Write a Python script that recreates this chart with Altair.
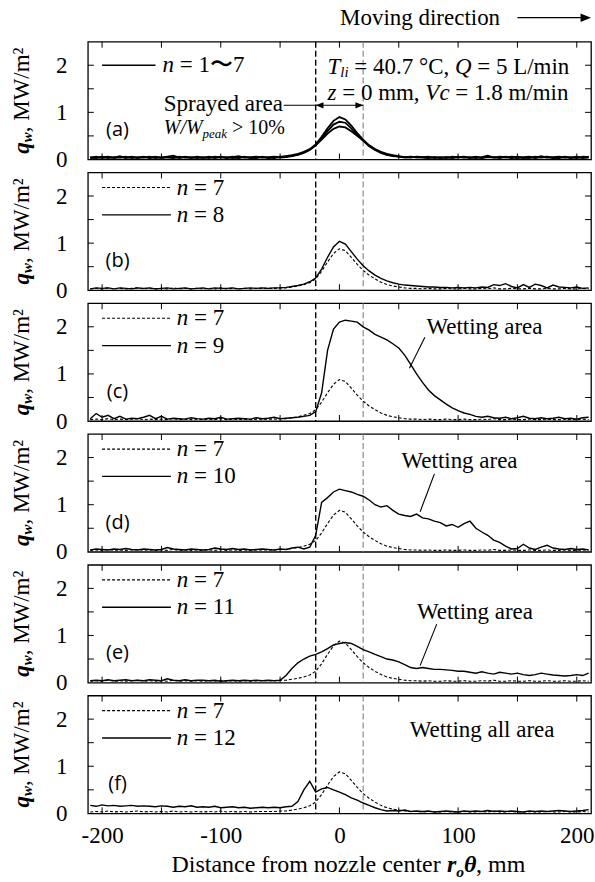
import altair as alt
import pandas as pd

# ---------------- data ----------------
X_MM = list(range(-210, 215, 5))

A_N1 = [0.04,0.06,0.03,0.05,0.04,0.07,0.03,0.05,0.04,0.06,
        0.03,0.05,0.04,0.06,0.08,0.04,0.05,0.03,0.06,0.04,
        0.05,0.04,0.06,0.03,0.05,0.07,0.04,0.05,0.06,0.04,
        0.05,0.06,0.05,0.07,0.09,0.12,0.16,0.22,0.32,0.48,
        0.66,0.82,0.90,0.85,0.72,0.56,0.42,0.30,0.21,0.15,
        0.10,0.08,0.06,0.05,0.04,0.06,0.05,0.04,0.05,0.03,
        0.05,0.04,0.06,0.04,0.05,0.03,0.05,0.08,0.04,0.05,
        0.04,0.06,0.05,0.03,0.05,0.04,0.07,0.04,0.05,0.06,
        0.04,0.05,0.03,0.06,0.05]
A_N2 = [0.03,0.04,0.06,0.03,0.05,0.04,0.06,0.03,0.05,0.04,
        0.06,0.03,0.05,0.04,0.03,0.06,0.04,0.05,0.03,0.05,
        0.03,0.06,0.04,0.05,0.03,0.04,0.06,0.03,0.04,0.05,
        0.04,0.03,0.06,0.06,0.08,0.10,0.14,0.20,0.30,0.42,
        0.55,0.65,0.70,0.68,0.60,0.50,0.40,0.30,0.22,0.16,
        0.12,0.09,0.07,0.05,0.06,0.04,0.05,0.06,0.03,0.05,
        0.03,0.06,0.04,0.05,0.04,0.06,0.03,0.05,0.04,0.06,
        0.05,0.03,0.06,0.04,0.03,0.06,0.04,0.05,0.03,0.04,
        0.06,0.03,0.05,0.04,0.06]
A_N3 = [0.05,0.03,0.05,0.06,0.03,0.05,0.04,0.06,0.03,0.05,
        0.04,0.06,0.03,0.05,0.05,0.03,0.06,0.04,0.05,0.03,
        0.06,0.03,0.05,0.04,0.06,0.03,0.05,0.04,0.03,0.06,
        0.03,0.05,0.04,0.05,0.07,0.10,0.15,0.21,0.30,0.45,
        0.60,0.74,0.80,0.78,0.66,0.52,0.40,0.28,0.20,0.14,
        0.10,0.07,0.06,0.04,0.05,0.05,0.04,0.03,0.05,0.04,
        0.05,0.03,0.05,0.06,0.03,0.05,0.04,0.06,0.05,0.03,
        0.06,0.04,0.03,0.05,0.06,0.03,0.05,0.06,0.04,0.03,
        0.05,0.04,0.06,0.03,0.04]
N7 = [0.03,0.04,0.03,0.05,0.03,0.04,0.03,0.04,0.05,0.03,
      0.04,0.03,0.04,0.03,0.05,0.03,0.04,0.03,0.04,0.03,
      0.04,0.03,0.05,0.03,0.04,0.03,0.04,0.03,0.04,0.04,
      0.04,0.04,0.05,0.05,0.07,0.09,0.12,0.16,0.24,0.40,
      0.60,0.78,0.88,0.84,0.70,0.55,0.42,0.32,0.24,0.17,
      0.12,0.09,0.07,0.05,0.04,0.04,0.03,0.04,0.03,0.03,
      0.04,0.03,0.03,0.04,0.03,0.03,0.04,0.03,0.05,0.03,
      0.03,0.04,0.03,0.03,0.04,0.03,0.03,0.04,0.03,0.03,
      0.04,0.03,0.03,0.04,0.03]
N8 = [0.03,0.05,0.04,0.05,0.03,0.05,0.04,0.03,0.05,0.04,
      0.05,0.03,0.04,0.05,0.03,0.04,0.05,0.03,0.04,0.05,
      0.03,0.05,0.04,0.04,0.05,0.03,0.04,0.05,0.04,0.05,
      0.04,0.05,0.05,0.06,0.08,0.10,0.13,0.18,0.26,0.45,
      0.70,0.92,1.04,0.98,0.82,0.66,0.52,0.41,0.32,0.25,
      0.20,0.16,0.13,0.11,0.10,0.09,0.08,0.07,0.07,0.06,
      0.06,0.05,0.06,0.05,0.06,0.05,0.07,0.06,0.12,0.10,
      0.14,0.08,0.05,0.12,0.06,0.13,0.10,0.05,0.11,0.07,
      0.06,0.05,0.07,0.04,0.05]
N9 = [0.05,0.16,0.08,0.12,0.05,0.10,0.04,0.06,0.05,0.08,
      0.12,0.05,0.10,0.04,0.06,0.05,0.04,0.07,0.05,0.04,
      0.06,0.05,0.08,0.04,0.05,0.06,0.05,0.04,0.07,0.05,
      0.06,0.08,0.05,0.06,0.07,0.08,0.10,0.12,0.20,0.60,
      1.50,1.95,2.10,2.14,2.12,2.10,2.00,1.93,1.84,1.78,
      1.72,1.64,1.55,1.40,1.20,1.00,0.82,0.66,0.54,0.45,
      0.36,0.28,0.22,0.17,0.14,0.10,0.08,0.10,0.07,0.06,
      0.08,0.05,0.07,0.10,0.06,0.05,0.07,0.05,0.06,0.08,
      0.05,0.06,0.04,0.07,0.08]
N10 = [0.04,0.06,0.05,0.04,0.06,0.05,0.07,0.05,0.04,0.06,
       0.05,0.04,0.05,0.09,0.06,0.05,0.04,0.06,0.05,0.04,
       0.05,0.08,0.06,0.05,0.07,0.05,0.06,0.04,0.05,0.06,
       0.05,0.04,0.06,0.05,0.08,0.10,0.06,0.10,0.35,1.05,
       1.15,1.27,1.33,1.30,1.27,1.22,1.18,1.10,1.00,0.95,
       0.98,0.88,0.80,0.77,0.75,0.80,0.72,0.70,0.65,0.62,
       0.55,0.58,0.52,0.60,0.65,0.50,0.42,0.35,0.25,0.20,
       0.12,0.06,0.07,0.16,0.08,0.05,0.10,0.14,0.08,0.06,
       0.05,0.07,0.05,0.06,0.04]
N11 = [0.04,0.05,0.04,0.06,0.04,0.05,0.06,0.04,0.05,0.04,
       0.06,0.05,0.04,0.08,0.05,0.04,0.06,0.04,0.05,0.05,
       0.04,0.05,0.03,0.04,0.05,0.04,0.05,0.04,0.05,0.04,
       0.05,0.04,0.05,0.15,0.30,0.42,0.50,0.56,0.60,0.65,
       0.72,0.80,0.83,0.85,0.83,0.77,0.70,0.65,0.60,0.55,
       0.50,0.48,0.44,0.38,0.32,0.30,0.32,0.30,0.28,0.28,
       0.27,0.26,0.24,0.24,0.22,0.20,0.23,0.20,0.18,0.22,
       0.20,0.18,0.20,0.17,0.15,0.17,0.20,0.18,0.16,0.15,
       0.14,0.15,0.17,0.15,0.20]
N12 = [0.17,0.15,0.18,0.16,0.17,0.15,0.16,0.17,0.15,0.16,
       0.15,0.14,0.16,0.15,0.13,0.15,0.14,0.16,0.13,0.14,
       0.13,0.15,0.12,0.13,0.14,0.12,0.13,0.11,0.12,0.13,
       0.12,0.13,0.12,0.14,0.15,0.25,0.50,0.68,0.45,0.52,
       0.55,0.50,0.45,0.40,0.33,0.28,0.22,0.17,0.12,0.08,
       0.05,0.06,0.05,0.07,0.04,0.05,0.04,0.05,0.03,0.04,
       0.05,0.04,0.03,0.05,0.04,0.05,0.04,0.06,0.04,0.05,
       0.04,0.05,0.04,0.03,0.05,0.04,0.05,0.04,0.05,0.06,
       0.05,0.04,0.05,0.06,0.08]

X_TICK_LABELS = [-200, -100, 0, 100, 200]
X_MINOR = [-200, -150, -100, -50, 0, 50, 100, 150, 200]
Y_TICK_LABELS = [0, 1, 2]
Y_MINOR = [0.5, 1, 1.5, 2]
SPRAY_EDGES = [-20, 20]

# ---------------- style / geometry ----------------
SERIF = "Liberation Serif"
SANS = "Open Sans"
W, H = 504, 118
XD = [-212, 212]
YD = [0, 2.5]
FS = 23
CUR = {"last": False}

W_R = {' ': 250, '=': 564, '>': 564, '.': 250, ',': 250, '/': 278, '%': 833, '°': 400,
       '(': 333, ')': 333, '-': 333, '²': 300, '〜': 1000,
       'A': 722, 'C': 667, 'D': 722, 'L': 611, 'M': 889, 'Q': 722, 'S': 556, 'T': 611,
       'V': 722, 'W': 944, 'a': 444, 'c': 444, 'd': 500, 'e': 444, 'f': 333, 'g': 500,
       'i': 278, 'l': 278, 'm': 778, 'n': 500, 'o': 500, 'p': 500, 'r': 333, 's': 389,
       't': 278, 'y': 500, 'z': 444, 'k': 500, 'u': 500, 'w': 722}
W_I = {'T': 556, 'Q': 722, 'W': 833, 'V': 611, 'z': 389, 'n': 500, 'l': 278, 'i': 278,
       'p': 500, 'e': 444, 'a': 500, 'k': 444, 'c': 444, '/': 278}
W_BI = {'q': 500, 'w': 667, 'r': 389, 'o': 500, 'θ': 500}


def tw(s, style, size):
    tab = {'r': W_R, 'i': W_I, 'bi': W_BI}[style]
    return sum(tab.get(c, W_R.get(c, 500)) for c in s) * size / 1000.0


def xs():
    return alt.Scale(domain=XD, nice=False, zero=False)


def ys():
    return alt.Scale(domain=YD, nice=False, zero=False)


def x_axis():
    if not CUR["last"]:
        return None
    return alt.Axis(values=X_TICK_LABELS, labelExpr="'' + datum.value", ticks=False,
                    tickSize=0, domain=False, grid=False, title=None, labelFont=SERIF,
                    labelFontSize=FS, labelColor="black", labelPadding=11)


def y_axis():
    return alt.Axis(values=Y_TICK_LABELS, labelExpr="'' + datum.value", ticks=False,
                    tickSize=0, domain=False, grid=False, title=None, labelFont=SERIF,
                    labelFontSize=FS, labelColor="black", labelPadding=21)


def XF(field="x"):
    return alt.X(f"{field}:Q", scale=xs(), axis=x_axis())


def YF(field="y"):
    return alt.Y(f"{field}:Q", scale=ys(), axis=y_axis())


def rich(pieces, x, y, size=FS, align="left", xpix=False, ypix=False, angle=0):
    widths = [tw(t, st, size * sc) for t, st, sc, dy in pieces]
    total = sum(widths)
    cum = {"left": 0.0, "center": -total / 2.0, "right": -total}[align]
    out = []
    for (t, st, sc, dy), w in zip(pieces, widths):
        lead = len(t) - len(t.lstrip(" "))
        shift = tw(" " * lead, "r", size * sc)
        props = dict(text=t.strip(" "), align="left", baseline="middle", font=SERIF,
                     fontSize=size * sc, dx=cum + shift, dy=dy, color="black")
        if angle:
            props["angle"] = angle
        if "i" in st:
            props["fontStyle"] = "italic"
        if "b" in st:
            props["fontWeight"] = "bold"
        enc = dict(x=alt.value(x) if xpix else XF(), y=alt.value(y) if ypix else YF())
        out.append(alt.Chart(pd.DataFrame({"x": [x], "y": [y]})).mark_text(**props).encode(**enc))
        cum += w
    return out


def seg(x1, y1, x2, y2, width=1.0, dash=None, color="black"):
    df = pd.DataFrame({"x": [x1], "y": [y1], "x2": [x2], "y2": [y2]})
    kw = dict(color=color, strokeWidth=width)
    if dash:
        kw["strokeDash"] = dash
    return alt.Chart(df).mark_rule(**kw).encode(x=XF(), y=YF(), x2="x2:Q", y2="y2:Q")


def head(x, y, direction, size=60, ypix=False):
    path = "M0,0L-2,-0.8L-2,0.8Z" if direction == "right" else "M0,0L2,-0.8L2,0.8Z"
    df = pd.DataFrame({"x": [x], "y": [y]})
    return alt.Chart(df).mark_point(shape=path, filled=True, size=size, color="black",
                                    opacity=1, strokeWidth=0).encode(
        x=XF(), y=alt.value(y) if ypix else YF())


def line(values, dashed=False, width=1.4):
    df = pd.DataFrame({"x": X_MM, "y": values})
    kw = dict(color="black", strokeWidth=width)
    if dashed:
        kw.update(strokeDash=[3, 2], strokeWidth=1.1)
    return alt.Chart(df).mark_line(**kw).encode(x=XF(), y=YF())


def frame_ticks():
    xt = pd.DataFrame({"t": X_MINOR})
    yt = pd.DataFrame({"t": Y_MINOR})
    vl = pd.DataFrame({"t": SPRAY_EDGES})
    return [
        alt.Chart(xt).mark_rule(color="black", strokeWidth=1).encode(
            x=XF("t"), y=alt.value(H), y2=alt.value(H - 6)),
        alt.Chart(xt).mark_rule(color="black", strokeWidth=1).encode(
            x=XF("t"), y=alt.value(0), y2=alt.value(6)),
        alt.Chart(yt).mark_rule(color="black", strokeWidth=1).encode(
            y=YF("t"), x=alt.value(0), x2=alt.value(6)),
        alt.Chart(yt).mark_rule(color="black", strokeWidth=1).encode(
            y=YF("t"), x=alt.value(W), x2=alt.value(W - 6)),
        alt.Chart(vl.iloc[[0]]).mark_rule(color="black", strokeWidth=1.4, strokeDash=[6, 3]).encode(
            x=XF("t"), y=alt.value(0), y2=alt.value(H)),
        alt.Chart(vl.iloc[[1]]).mark_rule(color="#808080", strokeWidth=1.1, strokeDash=[6, 3]).encode(
            x=XF("t"), y=alt.value(0), y2=alt.value(H)),
    ]


def base():
    df = pd.DataFrame({"x": [XD[0]], "y": [YD[0]]})
    return alt.Chart(df).mark_point(opacity=0).encode(x=XF(), y=YF())


def ytitle():
    pieces = [("q", "bi", 1, 0), ("w", "bi", 0.65, 6), (", MW/m²", "r", 1, 0)]
    return rich(pieces, -66, H / 2, size=FS, align="center", xpix=True, ypix=True, angle=270)


def legend_rows(items):
    out = []
    for lab, dashed, y, x_end, text_x in items:
        kw = dict(color="black", strokeWidth=1.1 if dashed else 1.4)
        if dashed:
            kw["strokeDash"] = [3, 2]
        out.append(alt.Chart(pd.DataFrame({"x": [-200], "x2": [x_end], "y": [y]}))
                   .mark_rule(**kw).encode(x=XF(), x2="x2:Q", y=YF()))
        out += rich([("n", "i", 1, 0), (" = " + lab, "r", 1, 0)], text_x, y)
    return out


def tag(letter):
    return [alt.Chart(pd.DataFrame({"x": [-187], "y": [0.62]})).mark_text(
        text=f"({letter})", font=SANS, fontSize=20, color="black", align="center",
        baseline="middle").encode(x=XF(), y=YF())]


def wetting(text, cx, cy, p1, p2):
    out = rich([(text, "r", 1, 0)], cx, cy, align="center")
    if p1 is not None:
        out.append(seg(p1[0], p1[1], p2[0], p2[1], width=1.1))
    return out


def panel(layers):
    return alt.layer(base(), *frame_ticks(), *layers, *ytitle()).properties(width=W, height=H)


# (a)
pa = [line(A_N2, width=1.8), line(A_N3, width=1.8), line(A_N1, width=1.8)]
pa += legend_rows([("1〜7", False, 2.0, -155, -149)])
pa += tag("a")
pa += rich([("T", "i", 1, 0), ("li", "i", 0.65, 6), (" = 40.7 °C, ", "r", 1, 0),
            ("Q", "i", 1, 0), (" = 5 L/min", "r", 1, 0)], -10, 1.97)
pa += rich([("z", "i", 1, 0), (" = 0 mm, ", "r", 1, 0), ("Vc", "i", 1, 0),
            (" = 1.8 m/min", "r", 1, 0)], -10, 1.42)
pa += rich([("Sprayed area", "r", 1, 0)], -148, 1.18)
pa += rich([("W/W", "i", 1, 0), ("peak", "i", 0.65, 6), (" > 10%", "r", 1, 0)], -148, 0.66, size=20)
pa += [seg(-47, 1.15, -20, 1.15, width=1.1), seg(-20, 1.15, 20, 1.15, width=1.1),
       head(-20, 1.15, "left"), head(20, 1.15, "right")]
pa += rich([("Moving direction", "r", 1, 0)], 68, -24, align="center", ypix=True)
pa += [alt.Chart(pd.DataFrame({"x": [150], "x2": [208]})).mark_rule(color="black", strokeWidth=1.2)
       .encode(x=XF(), x2="x2:Q", y=alt.value(-24)),
       head(212, -24, "right", size=110, ypix=True)]
chart_a = panel(pa)

# (b)
pb = [line(N7, dashed=True), line(N8)]
pb += legend_rows([("7", True, 2.18, -142, -137), ("8", False, 1.6, -142, -137)])
pb += tag("b")
chart_b = panel(pb)

# (c)
pc = [line(N7, dashed=True), line(N9)]
pc += legend_rows([("7", True, 2.18, -142, -137), ("9", False, 1.6, -142, -137)])
pc += tag("c")
pc += wetting("Wetting area", 123, 2.0, (72, 1.78), (59, 1.12))
chart_c = panel(pc)

# (d)
pdd = [line(N7, dashed=True), line(N10)]
pdd += legend_rows([("7", True, 2.18, -142, -137), ("10", False, 1.6, -142, -137)])
pdd += tag("d")
pdd += wetting("Wetting area", 102, 1.93, (80, 1.65), (68, 0.85))
chart_d = panel(pdd)

# (e)
pe = [line(N7, dashed=True), line(N11)]
pe += legend_rows([("7", True, 2.18, -142, -137), ("11", False, 1.6, -142, -137)])
pe += tag("e")
pe += wetting("Wetting area", 115, 1.49, (82, 1.24), (68, 0.36))
chart_e = panel(pe)

# (f) -- bottom panel carries the x-axis labels
CUR["last"] = True
pf = [line(N7, dashed=True), line(N12)]
pf += legend_rows([("7", True, 2.18, -142, -137), ("12", False, 1.6, -142, -137)])
pf += tag("f")
pf += wetting("Wetting all area", 121, 1.77, None, None)
pf += rich([("Distance from nozzle center ", "r", 1, 0), ("r", "bi", 1, 0), ("o", "bi", 0.65, 7),
            ("θ", "bi", 1, 0), (", mm", "r", 1, 0)], W / 2 + 9, H + 52, size=24,
           align="center", xpix=True, ypix=True)
chart_f = panel(pf)

chart = alt.vconcat(
    chart_a, chart_b, chart_c, chart_d, chart_e, chart_f,
    spacing=13, bounds="flush"
).properties(
    padding={"left": 10, "top": 5, "right": 0, "bottom": 0},
    background="white",
).configure_view(stroke="black", strokeWidth=1.3)

chart.save("out.html", embed_options={"renderer": "svg", "actions": False})
